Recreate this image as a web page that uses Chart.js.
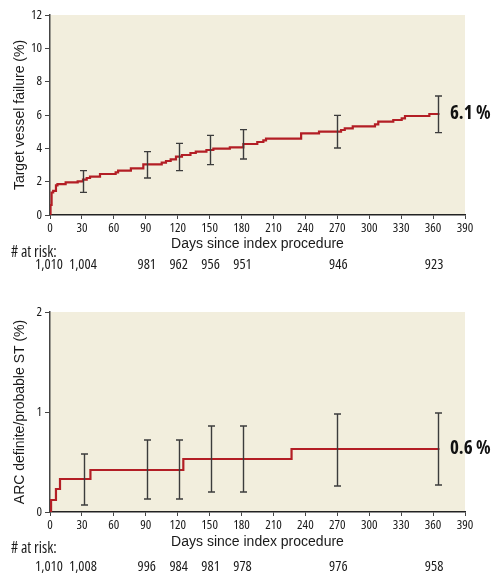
<!DOCTYPE html>
<html><head><meta charset="utf-8">
<script src="https://cdn.jsdelivr.net/npm/chart.js@4.4.1/dist/chart.umd.min.js"></script>
<style>
html,body{margin:0;padding:0;background:#fff;width:502px;height:585px;overflow:hidden}
#c1{position:absolute;left:0;top:0}
#c2{position:absolute;left:0;top:290px}
</style></head><body>
<canvas id="c1" width="502" height="290"></canvas>
<canvas id="c2" width="502" height="295"></canvas>
<script>
// ---- data ----
const xTicks = [0,30,60,90,120,150,180,210,240,270,300,330,360,390];
const riskDays = [0,30,90,120,150,180,270,360];

// Target vessel failure
const tvfDays   = [0, 0.5, 1.5, 3, 5.6, 7, 14.7, 26, 31, 34.5, 37.6, 47, 61.7, 64, 76, 87.7, 105, 109, 113.4, 118.4, 124, 132, 137, 147, 153.5, 169, 181.7, 194.8, 200.5, 203, 236, 252.8, 273.5, 277, 284.5, 305.4, 308.5, 322.6, 330.5, 333.6, 356.5, 366];
const tvfValues = [0, 0.6, 1.35, 1.45, 1.78, 1.85, 1.96, 2.02, 2.12, 2.22, 2.3, 2.46, 2.56, 2.66, 2.8, 3.04, 3.14, 3.24, 3.34, 3.5, 3.6, 3.72, 3.8, 3.9, 3.98, 4.06, 4.26, 4.38, 4.48, 4.58, 4.9, 5.0, 5.1, 5.2, 5.32, 5.44, 5.6, 5.7, 5.8, 5.94, 6.06, 6.06];
const tvfCiDays  = [31, 91, 121, 150, 181, 270, 365];
const tvfCiLower = [1.36, 2.22, 2.66, 3.02, 3.36, 4.02, 4.94];
const tvfCiUpper = [2.66, 3.8, 4.3, 4.78, 5.12, 5.98, 7.14];
const tvfRisk = ['1,010','1,004','981','962','956','951','946','923'];
const tvfYTicks = [0,2,4,6,8,10,12];
const tvfEndLabel = '6.1 %';

// ARC definite/probable stent thrombosis
const stDays   = [0, 1, 5.6, 9.4, 38, 125.3, 227, 366];
const stValues = [0, 0.12, 0.23, 0.33, 0.42, 0.53, 0.63, 0.63];
const stCiDays  = [32, 91, 121, 151, 181, 270, 365];
const stCiLower = [0.07, 0.13, 0.13, 0.2, 0.2, 0.26, 0.27];
const stCiUpper = [0.58, 0.72, 0.72, 0.86, 0.86, 0.98, 0.99];
const stRisk = ['1,010','1,008','996','984','981','978','976','958'];
const stYTicks = [0,1,2];
const stEndLabel = '0.6 %';

// ---- drawing ----
const COND = "'Open Sans',sans-serif";   // used with font-stretch: condensed
const SANS = "'Liberation Sans',Arial,sans-serif";
const TXT = '#1a1a1a';

const kmPlugin = {
  id: 'km',
  beforeDraw(chart) {
    const {ctx, chartArea: a} = chart;
    ctx.save();
    ctx.fillStyle = '#F2EEDD';
    ctx.fillRect(a.left, a.top, a.right - a.left, a.bottom - a.top);
    ctx.restore();
  },
  afterDraw(chart, args, o) {
    const {ctx} = chart;
    const xs = chart.scales.x, ys = chart.scales.y;
    ctx.save();
    // confidence interval bars
    ctx.strokeStyle = '#3c3c3c';
    ctx.lineWidth = 1.4;
    o.ciDays.forEach((d, i) => {
      const px = Math.round(xs.getPixelForValue(d)) + 0.5;
      const y1 = ys.getPixelForValue(o.lo[i]);
      const y2 = ys.getPixelForValue(o.hi[i]);
      ctx.beginPath();
      ctx.moveTo(px, y1); ctx.lineTo(px, y2);
      ctx.moveTo(px - 3.5, y1); ctx.lineTo(px + 3.5, y1);
      ctx.moveTo(px - 3.5, y2); ctx.lineTo(px + 3.5, y2);
      ctx.stroke();
    });
    // end label
    const lastX = xs.getPixelForValue(o.endX);
    const lastY = ys.getPixelForValue(o.endY);
    ctx.fillStyle = '#111';
    ctx.font = "condensed bold 19px " + COND;
    ctx.textAlign = 'left';
    ctx.textBaseline = 'middle';
    ctx.fillText(o.endLabel, lastX + 11, lastY);
    // numbers at risk
    ctx.fillStyle = TXT;
    ctx.font = "condensed 15.5px " + COND;
    ctx.textAlign = 'left';
    ctx.fillText('# at risk:', 11, o.riskLabelY);
    ctx.font = "condensed 14.5px " + COND;
    ctx.textAlign = 'center';
    o.riskDays.forEach((d, i) => {
      ctx.fillText(o.risk[i], xs.getPixelForValue(d) + (i === 0 ? -1 : 1), o.riskY);
    });
    ctx.restore();
  }
};

function makeChart(id, cfg) {
  const pts = cfg.days.map((d, i) => ({x: d, y: cfg.values[i]}));
  return new Chart(document.getElementById(id), {
    type: 'line',
    data: { datasets: [{
      data: pts, stepped: true, borderColor: '#B31E25', borderWidth: 2.2,
      pointRadius: 0, fill: false, tension: 0
    }]},
    options: {
      responsive: false, animation: false,
      layout: { padding: { left: 0, top: cfg.top, right: 37, bottom: 0 } },
      plugins: {
        legend: { display: false }, tooltip: { enabled: false },
        km: {
          ciDays: cfg.ciDays, lo: cfg.lo, hi: cfg.hi,
          endX: cfg.days[cfg.days.length - 1] - 0.5, endY: cfg.values[cfg.values.length - 1],
          endLabel: cfg.endLabel, risk: cfg.risk, riskDays: riskDays,
          riskLabelY: cfg.riskLabelY, riskY: cfg.riskY
        }
      },
      scales: {
        x: {
          type: 'linear', min: 0, max: 390,
          afterBuildTicks: s => { s.ticks = xTicks.map(v => ({value: v})); },
          afterFit: s => { s.height = cfg.xh; },
          ticks: { font: { family: COND, size: 13, weight: 'condensed', lineHeight: 1.2 }, color: TXT, padding: 1, maxRotation: 0, autoSkip: false },
          grid: { drawOnChartArea: false, drawTicks: true, tickLength: 4, color: '#444', lineWidth: 1 },
          border: { display: true, color: '#222', width: 1.5 },
          title: { display: true, text: 'Days since index procedure', color: TXT,
                   font: { family: SANS, size: 14 }, padding: { top: 0, bottom: cfg.xtPad } }
        },
        y: {
          type: 'linear', min: cfg.yTicks[0], max: cfg.yTicks[cfg.yTicks.length - 1],
          afterBuildTicks: s => { s.ticks = cfg.yTicks.map(v => ({value: v})); },
          afterFit: s => { s.width = 50; },
          ticks: { font: { family: COND, size: 13, weight: 'condensed', lineHeight: 1.2 }, color: TXT, padding: 3 },
          grid: { drawOnChartArea: false, drawTicks: true, tickLength: 5, color: '#444', lineWidth: 1 },
          border: { display: true, color: '#444', width: 1.5 },
          title: { display: true, text: cfg.yTitle, color: TXT,
                   font: { family: SANS, size: 14 }, padding: { top: 12, bottom: 0 } }
        }
      }
    },
    plugins: [kmPlugin]
  });
}

makeChart('c1', {
  days: tvfDays, values: tvfValues, ciDays: tvfCiDays, lo: tvfCiLower, hi: tvfCiUpper,
  risk: tvfRisk, yTicks: tvfYTicks, endLabel: tvfEndLabel, yTitle: 'Target vessel failure (%)',
  top: 15, xh: 75, xtPad: 37.6, riskLabelY: 253, riskY: 265
});
makeChart('c2', {
  days: stDays, values: stValues, ciDays: stCiDays, lo: stCiLower, hi: stCiUpper,
  risk: stRisk, yTicks: stYTicks, endLabel: stEndLabel, yTitle: 'ARC definite/probable ST (%)',
  top: 22, xh: 73, xtPad: 34.6, riskLabelY: 259, riskY: 277
});
</script>
</body></html>
